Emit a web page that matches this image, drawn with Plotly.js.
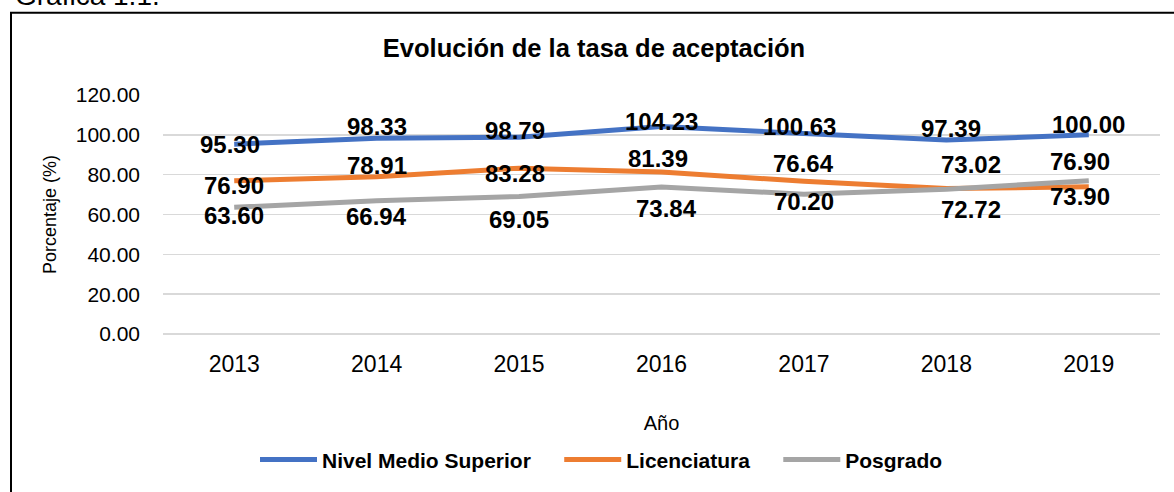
<!DOCTYPE html>
<html>
<head>
<meta charset="utf-8">
<script src="https://cdn.plot.ly/plotly-3.0.1.min.js"></script>
<style>
  html, body { margin: 0; padding: 0; background: #fff; }
  #chart { width: 1174px; height: 492px; }
</style>
</head>
<body>
<div id="chart"></div>
<script>
// ---- data ----
const years = ["2013", "2014", "2015", "2016", "2017", "2018", "2019"];
const nivelMedioSuperior = [95.30, 98.33, 98.79, 104.23, 100.63, 97.39, 100.00];
const licenciatura = [76.90, 78.91, 83.28, 81.39, 76.64, 73.02, 73.90];
const posgrado = [63.60, 66.94, 69.05, 73.84, 70.20, 72.72, 76.90];
const yTicks = [0, 20, 40, 60, 80, 100, 120];

// ---- label placement (styling only, pixel offsets) ----
const labelShiftY = {
  nms: [0, 12, 7, 5, 7, 12, 10],
  lic: [-5, 11, -5, 13, 18, 24, -10],
  pos: [-8, -16, -23, -22, -7, -20, 19]
};
const labelShiftX = {
  nms: [-4, 0, -4, 0, -4, 5, 0],
  lic: [0, 0, -4, -4, 0, 25, -9],
  pos: [0, 0, 0, 5, 0, 25, -9]
};

const FONT = "Liberation Sans, Arial, sans-serif";
const GAP = "\u00a0\u00a0\u00a0\u00a0";

const series = [
  { key: "nms", name: "Nivel Medio Superior", legendName: "Nivel Medio Superior" + GAP, values: nivelMedioSuperior, color: "#4472C4" },
  { key: "lic", name: "Licenciatura", legendName: "Licenciatura" + GAP, values: licenciatura, color: "#ED7D31" },
  { key: "pos", name: "Posgrado", legendName: "Posgrado", values: posgrado, color: "#A5A5A5" }
];

const traces = series.map(s => ({
  type: "scatter",
  mode: "lines",
  x: years,
  y: s.values,
  name: s.legendName,
  line: { color: s.color, width: 5, shape: "linear" },
  hoverinfo: "x+y"
}));

const annotations = [];
series.forEach(s => {
  s.values.forEach((v, i) => {
    annotations.push({
      x: i, y: v, xref: "x", yref: "y",
      text: "<b>" + v.toFixed(2) + "</b>",
      showarrow: false,
      xshift: labelShiftX[s.key][i],
      yshift: labelShiftY[s.key][i],
      font: { family: FONT, size: 24, color: "#000" }
    });
  });
});

// figure caption above the frame
annotations.push({
  xref: "paper", yref: "paper", x: -0.15, y: 1.345,
  xanchor: "left", yanchor: "bottom", showarrow: false,
  text: "Gráfica 1.1.",
  font: { family: FONT, size: 28, color: "#000" }
});

const layout = {
  width: 1174, height: 492,
  margin: { l: 163, r: 14, t: 95, b: 156 },
  paper_bgcolor: "#fff", plot_bgcolor: "#fff",
  title: {
    text: "<b>Evolución de la tasa de aceptación</b>",
    font: { family: FONT, size: 25.5, color: "#000" },
    x: 594 / 1174, xanchor: "center", xref: "container",
    y: 1 - 48 / 492, yanchor: "middle", yref: "container"
  },
  xaxis: {
    type: "category",
    categoryarray: years,
    range: [-0.5, 6.5],
    showgrid: false, zeroline: false, showline: false, ticks: "",
    tickfont: { family: FONT, size: 23, color: "#000" },
    ticklabelstandoff: 14,
    title: { text: "Año", font: { family: FONT, size: 20, color: "#000" }, standoff: 39 },
    fixedrange: true
  },
  yaxis: {
    range: [0, 120],
    tickvals: yTicks,
    ticktext: yTicks.map(t => t.toFixed(2)),
    showgrid: true, gridcolor: "#D9D9D9", gridwidth: 1.5,
    zeroline: true, zerolinecolor: "#D9D9D9", zerolinewidth: 1.5,
    showline: false, ticks: "",
    tickfont: { family: FONT, size: 21, color: "#000" },
    ticklabelstandoff: 22,
    title: { text: "Porcentaje (%)", font: { family: FONT, size: 18, color: "#000" }, standoff: 14 },
    fixedrange: true
  },
  showlegend: true,
  legend: {
    orientation: "h",
    x: (255 - 163) / 997, xanchor: "left",
    y: (336 - 463) / 241, yanchor: "middle",
    font: { family: FONT, size: 21, color: "#000", weight: "bold" },
    itemwidth: 57,
    bgcolor: "rgba(0,0,0,0)"
  },
  annotations: annotations,
  shapes: [{
    type: "rect", xref: "paper", yref: "paper",
    x0: (11 - 163) / 997, x1: (1180 - 163) / 997,
    y0: (336 - 500) / 241, y1: (336 - 12) / 241,
    line: { color: "#000", width: 2 }, fillcolor: "rgba(0,0,0,0)", layer: "below"
  }]
};

Plotly.newPlot("chart", traces, layout, { displayModeBar: false, staticPlot: true });
</script>
</body>
</html>
